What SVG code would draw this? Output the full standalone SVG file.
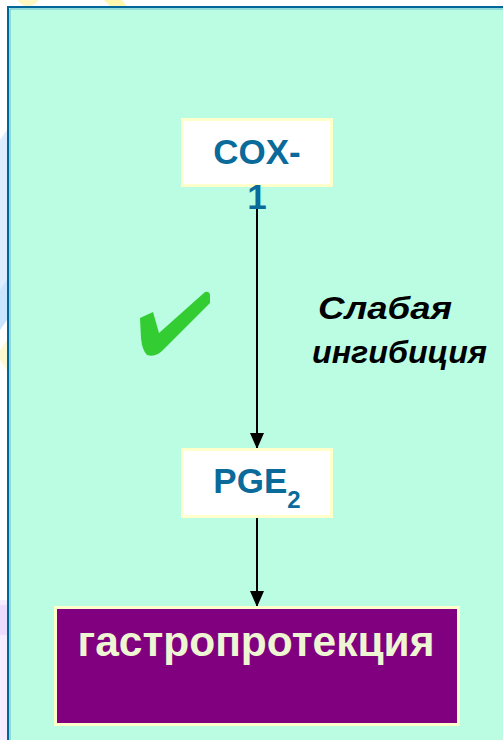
<svg xmlns="http://www.w3.org/2000/svg" width="503" height="740" viewBox="0 0 503 740">
  <defs>
    <marker id="arrow" viewBox="0 0 16 14" refX="16" refY="7" markerWidth="16" markerHeight="14" markerUnits="userSpaceOnUse" orient="auto">
      <path d="M0,0 L16,7 L0,14 Z" fill="#000"/>
    </marker>
    <style>
      .box { fill: #ffffff; stroke: #ffffcc; stroke-width: 3; }
      .enzyme { font-family: "Liberation Sans", Arial, sans-serif; font-weight: bold; font-size: 35px; fill: #0a6a9a; text-anchor: middle; }
      .note { font-family: "Liberation Sans", Arial, sans-serif; font-weight: bold; font-style: italic; font-size: 32px; fill: #000; text-anchor: middle; }
      .effect { font-family: "Liberation Sans", Arial, sans-serif; font-weight: bold; font-size: 42.5px; fill: #eef5d2; text-anchor: middle; }
      .conn { stroke: #000; stroke-width: 2; fill: none; }
    </style>
  </defs>

  <!-- slide backdrop -->
  <rect x="0" y="0" width="503" height="740" fill="#ffffff"/>
  <g id="backdrop-deco">
    <ellipse cx="28" cy="-6" rx="12" ry="12" fill="#fff8c0"/>
    <path d="M104,0 L122,0 L128,8 L112,8 Z" fill="#fff7b0"/>
    <path d="M0,140 L7,130 L7,300 L0,300 Z" fill="#dcedff"/>
    <path d="M0,290 L7,280 L7,320 L0,330 Z" fill="#c9e4ff"/>
    <path d="M0,350 L7,340 L7,370 L0,360 Z" fill="#fff9d0"/>
    <rect x="0" y="600" width="7" height="140" fill="#f6ecff"/>
    <rect x="0" y="605" width="7" height="30" fill="#eedcff"/>
  </g>

  <!-- main panel -->
  <g id="panel">
    <rect x="8" y="7" width="500" height="740" fill="#bbfde3" stroke="#006699" stroke-width="2"/>
    <path d="M10,747 L10,9 L508,9" fill="none" stroke="#66b8cc" stroke-width="1"/>
  </g>

  <!-- connectors -->
  <g id="connectors">
    <line class="conn" x1="257" y1="208" x2="257" y2="449" marker-end="url(#arrow)"/>
    <line class="conn" x1="257" y1="517" x2="257" y2="607" marker-end="url(#arrow)"/>
  </g>

  <g id="cox1">
    <rect class="box" x="182.5" y="119.5" width="149" height="66"/>
    <text class="enzyme" x="257" y="164">COX-</text>
    <text class="enzyme" x="257" y="209">1</text>
  </g>

  <g id="pge2">
    <rect class="box" x="182.5" y="449.5" width="149" height="67"/>
    <text class="enzyme" x="257" y="493">PGE<tspan font-size="24" dy="15">2</tspan></text>
  </g>

  <g id="label">
    <text class="note" x="385" y="319" textLength="134" lengthAdjust="spacingAndGlyphs">Слабая</text>
    <text class="note" x="399.5" y="363" textLength="175" lengthAdjust="spacingAndGlyphs">ингибиция</text>
  </g>

  <g id="check">
    <path d="M140,318 L153,312 L159,333 L205,292 Q210,291 210,296 L210,303 L164,349 Q156,358 147,355 Q142,350 141,338 Z" fill="#33cc33"/>
  </g>

  <g id="gastroprotection">
    <rect x="55.5" y="607.5" width="403" height="117" fill="#800080" stroke="#ffffcc" stroke-width="3"/>
    <text class="effect" x="256" y="656">гастропротекция</text>
  </g>
</svg>
